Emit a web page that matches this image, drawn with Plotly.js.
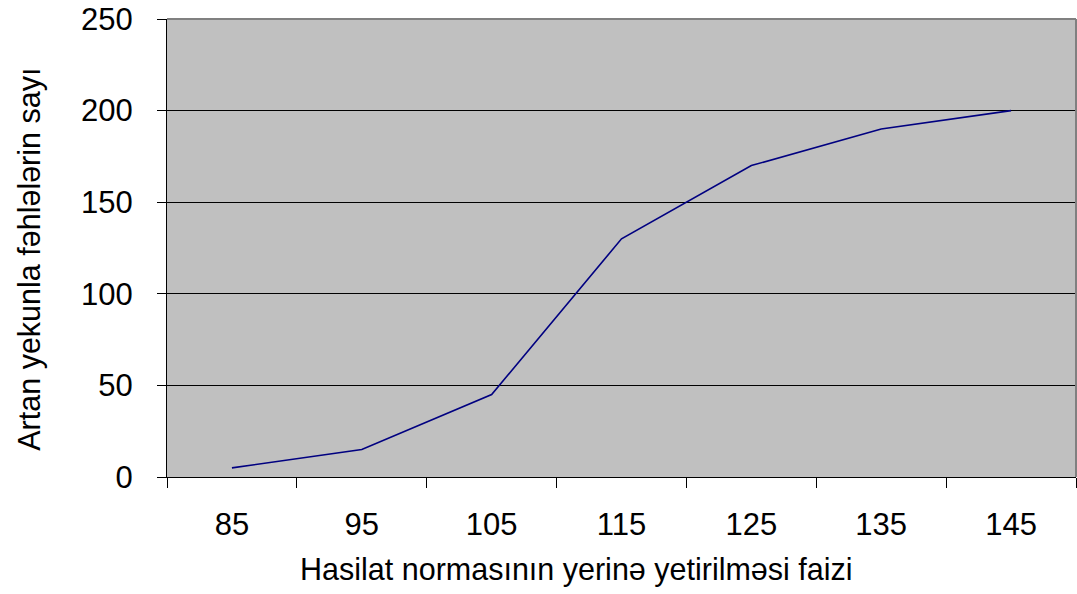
<!DOCTYPE html>
<html>
<head>
<meta charset="utf-8">
<script src="https://cdn.plot.ly/plotly-3.0.1.min.js"></script>
<style>html,body{margin:0;padding:0;background:#fff;}#chart{width:1077px;height:594px;}</style>
</head>
<body>
<div id="chart"></div>
<script>
const categories = ["85", "95", "105", "115", "125", "135", "145"];
const values = [5, 15, 45, 130, 170, 190, 200];
const yTicks = [0, 50, 100, 150, 200, 250];
const xTitle = "Hasilat normasının yerinə yetirilməsi faizi";
const yTitle = "Artan yekunla fəhlələrin sayı";

const trace = {
  x: categories,
  y: values,
  type: "scatter",
  mode: "lines",
  line: {color: "#000080", width: 1.6},
  hoverinfo: "x+y"
};

const fam = "Liberation Sans, Arial, sans-serif";
const font = {family: fam, size: 31, color: "#000"};
const titleFont = {family: fam, size: 30.5, color: "#000"};

const layout = {
  width: 1077,
  height: 594,
  margin: {l: 167, r: 1, t: 19, b: 117},
  paper_bgcolor: "#ffffff",
  plot_bgcolor: "#c0c0c0",
  showlegend: false,
  font: font,
  xaxis: {
    type: "category",
    categoryorder: "array",
    categoryarray: categories,
    range: [-0.5, categories.length - 0.5],
    tickson: "boundaries",
    ticks: "outside",
    ticklen: 10,
    tickcolor: "#000",
    tickwidth: 1,
    showline: true,
    linecolor: "#000",
    linewidth: 1,
    showgrid: false,
    zeroline: false,
    tickfont: font,
    ticklabelstandoff: 20
  },
  yaxis: {
    range: [0, 250],
    tickvals: yTicks,
    ticktext: yTicks.map(String),
    ticks: "outside",
    ticklen: 9,
    tickcolor: "#000",
    tickwidth: 1,
    showline: true,
    linecolor: "#000",
    linewidth: 1,
    showgrid: true,
    gridcolor: "#000",
    gridwidth: 1,
    zeroline: false,
    tickfont: font,
    ticklabelstandoff: 18
  },
  annotations: [
    {text: xTitle, xref: "paper", yref: "paper", x: 0.45, y: -0.201, xanchor: "center", yanchor: "middle", showarrow: false, font: titleFont},
    {text: yTitle, xref: "paper", yref: "paper", x: -0.151, y: 0.476, xanchor: "center", yanchor: "middle", textangle: -90, showarrow: false, font: titleFont}
  ],
  shapes: [
    {type: "line", xref: "paper", yref: "paper", x0: 0, x1: 1, y0: 1, y1: 1, line: {color: "#808080", width: 2}, layer: "above"},
    {type: "line", xref: "paper", yref: "paper", x0: 1, x1: 1, y0: 0, y1: 1, line: {color: "#808080", width: 2}, layer: "above"}
  ]
};

Plotly.newPlot("chart", [trace], layout, {displayModeBar: false, staticPlot: true});
</script>
</body>
</html>
